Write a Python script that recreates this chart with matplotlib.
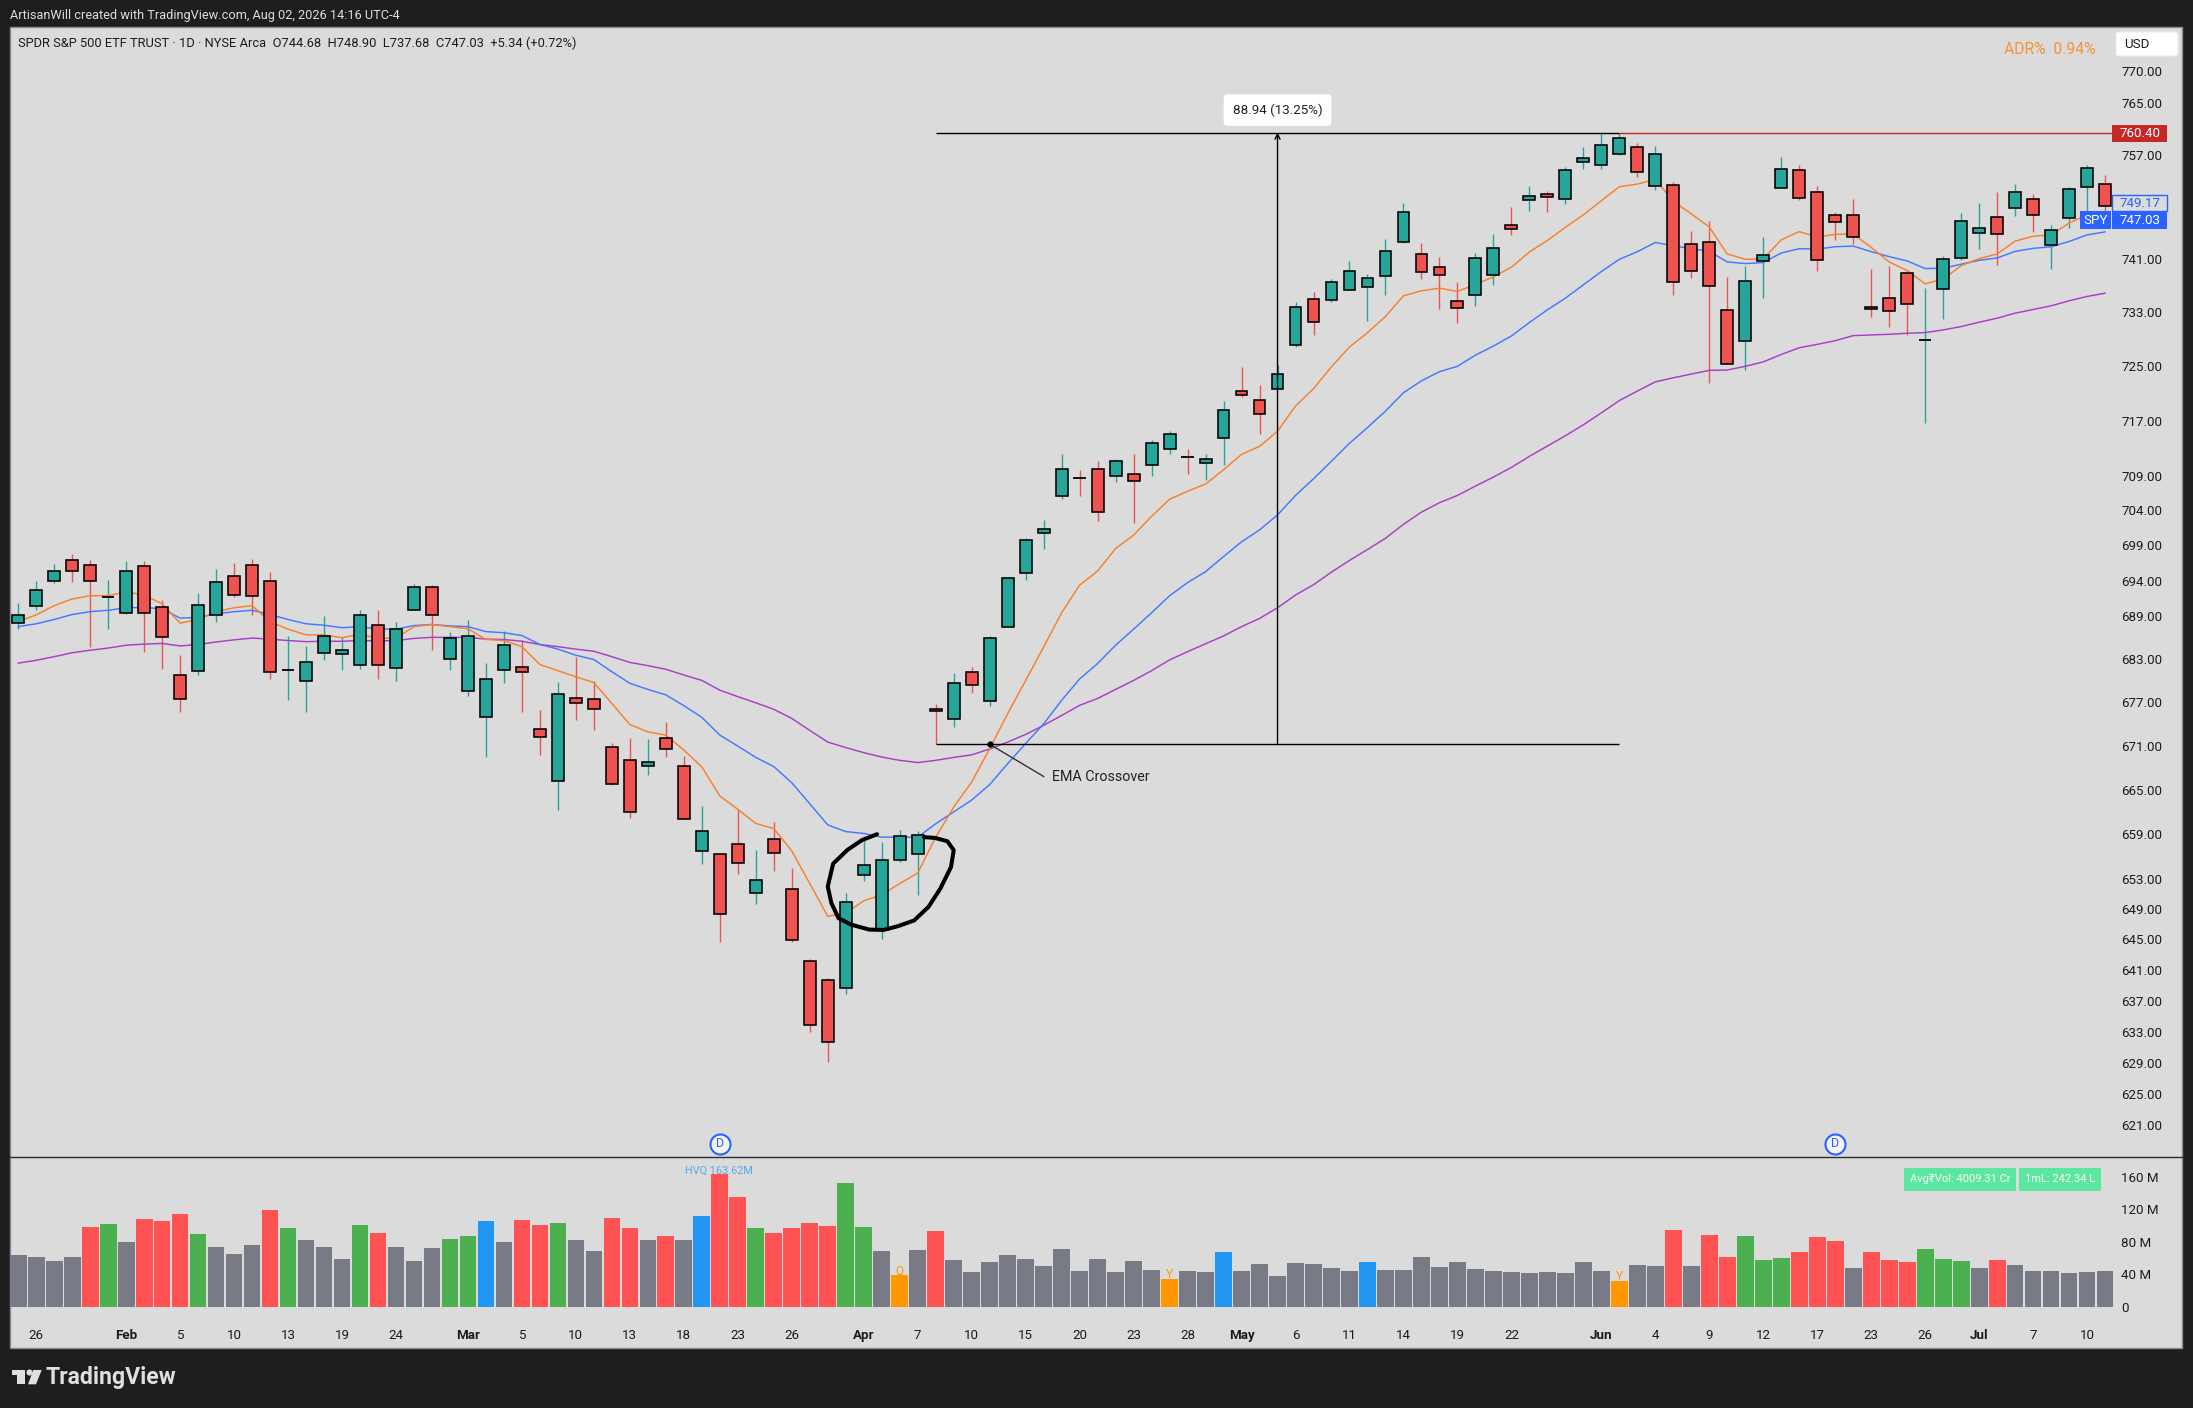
import matplotlib
matplotlib.use("Agg")
import matplotlib.pyplot as plt
from matplotlib.patches import Rectangle, FancyBboxPatch, Polygon
from matplotlib.lines import Line2D
from matplotlib.ticker import NullLocator, FixedLocator

plt.rcParams['font.family'] = ['Roboto', 'DejaVu Sans']

opens = [688.0, 690.4, 694.0, 696.9, 696.2, 691.65, 689.4, 696.0, 690.2, 680.7,
         681.3, 689.2, 694.7, 696.2, 694.0, 681.5, 679.9, 683.8, 683.7, 682.1,
         687.7, 681.7, 689.9, 693.1, 683.0, 678.5, 674.9, 681.4, 681.8, 673.3,
         666.2, 677.5, 677.4, 670.8, 669.0, 668.2, 672.1, 668.2, 656.7, 656.3,
         657.7, 651.1, 658.4, 651.7, 642.2, 639.7, 638.6, 653.6, 646.2, 655.6,
         656.4, 676.1, 674.6, 681.1, 677.2, 687.5, 695.0, 700.8, 706.0, 708.6,
         710.0, 709.0, 709.3, 710.6, 712.9, 711.7, 710.9, 714.4, 721.3, 720.1,
         721.7, 728.2, 735.0, 734.9, 736.4, 736.8, 738.5, 743.6, 741.8, 739.9,
         734.7, 735.6, 738.7, 746.2, 750.0, 751.0, 750.2, 755.9, 755.4, 757.1,
         758.2, 752.2, 752.3, 743.3, 743.6, 733.4, 728.7, 740.7, 751.9, 754.6,
         751.3, 747.7, 747.7, 733.8, 735.2, 738.9, 728.9, 736.5, 741.2, 745.0,
         747.4, 748.8, 750.2, 743.2, 747.3, 752.0, 752.5]
highs = [690.8, 693.9, 696.4, 697.7, 696.9, 694.1, 696.8, 696.8, 691.3, 683.5,
         692.3, 695.7, 696.5, 697.0, 695.2, 686.2, 684.8, 689.0, 686.0, 689.9,
         689.9, 688.2, 693.5, 693.3, 686.8, 688.4, 682.4, 686.9, 685.6, 675.9,
         679.8, 683.2, 679.9, 671.4, 672.1, 671.9, 674.2, 669.6, 662.8, 656.4,
         662.3, 656.9, 660.6, 654.5, 642.4, 640.0, 651.2, 658.3, 657.9, 659.5,
         659.4, 676.8, 681.0, 681.8, 686.2, 694.5, 700.1, 702.6, 712.2, 709.8,
         711.1, 711.4, 712.2, 714.2, 715.5, 712.8, 712.2, 719.9, 724.9, 722.2,
         725.2, 734.6, 736.1, 738.0, 740.8, 738.8, 744.0, 749.6, 743.5, 741.4,
         737.6, 741.9, 744.9, 749.0, 752.2, 751.4, 755.1, 758.1, 760.3, 760.4,
         758.8, 758.4, 752.8, 745.3, 746.8, 738.3, 740.0, 744.4, 756.7, 755.4,
         752.2, 748.2, 750.2, 739.6, 740.0, 739.3, 736.6, 741.5, 748.1, 749.5,
         751.3, 752.5, 751.0, 746.2, 752.0, 755.4, 753.9]
lows = [687.1, 689.9, 693.6, 693.8, 684.7, 687.1, 689.3, 683.9, 681.6, 675.7,
        680.8, 688.2, 691.6, 689.1, 680.2, 677.3, 675.7, 682.8, 681.5, 681.6,
        680.2, 679.9, 689.9, 684.3, 681.5, 677.9, 669.5, 679.6, 675.6, 669.7,
        662.3, 674.5, 673.2, 665.7, 661.2, 667.0, 669.5, 661.0, 655.0, 644.6,
        653.7, 649.7, 654.1, 644.6, 632.9, 629.1, 637.8, 652.8, 645.0, 655.3,
        650.9, 671.2, 673.6, 678.3, 676.5, 687.4, 694.1, 698.5, 705.6, 706.1,
        702.5, 708.1, 702.2, 709.0, 712.2, 709.2, 708.4, 710.5, 720.5, 715.0,
        721.6, 727.9, 729.7, 734.6, 736.3, 731.8, 735.6, 743.5, 738.0, 733.5,
        731.5, 733.9, 737.1, 744.7, 748.4, 748.2, 749.4, 754.7, 754.7, 756.9,
        753.6, 751.5, 735.6, 738.2, 722.6, 725.3, 724.4, 735.1, 751.8, 750.0,
        739.3, 743.9, 743.3, 732.3, 730.9, 729.6, 716.6, 732.1, 740.9, 742.5,
        740.1, 747.5, 745.2, 739.6, 745.7, 747.3, 747.8]
closes = [689.1, 692.6, 695.3, 695.3, 693.9, 691.7, 695.3, 689.4, 686.0, 677.4,
          690.5, 693.8, 691.9, 691.8, 681.1, 681.55, 682.6, 686.2, 684.3, 689.2,
          682.2, 687.1, 693.1, 689.1, 685.9, 686.2, 680.2, 684.9, 681.1, 672.2,
          678.1, 676.9, 676.1, 665.8, 662.0, 668.8, 670.5, 661.1, 659.4, 648.3,
          655.1, 652.9, 656.5, 644.9, 633.8, 631.7, 650.0, 654.9, 655.6, 658.7,
          658.9, 675.8, 679.7, 679.3, 685.9, 694.3, 699.7, 701.4, 710.0, 708.55,
          703.8, 711.1, 708.3, 713.8, 715.0, 711.65, 711.4, 718.6, 720.7, 718.0,
          723.8, 733.8, 731.6, 737.6, 739.2, 738.2, 742.3, 748.2, 739.1, 738.7,
          733.7, 741.2, 742.7, 745.6, 750.6, 750.5, 754.6, 756.5, 758.5, 759.6,
          754.3, 757.1, 737.6, 739.2, 737.0, 725.4, 737.7, 741.6, 754.8, 750.3,
          740.9, 746.7, 744.4, 733.5, 733.2, 734.3, 728.95, 741.0, 746.8, 745.8,
          744.8, 751.2, 747.7, 745.4, 751.7, 754.9, 749.1]

ema_fast = [688.2, 689.15, 690.45, 691.4, 691.85, 691.85, 692.4, 691.95, 690.7, 688.0,
            688.5, 689.6, 690.15, 690.45, 688.2, 687.15, 686.35, 686.35, 685.95, 686.45,
            685.85, 685.9, 687.5, 687.8, 687.5, 687.2, 685.7, 685.55, 684.7, 682.2,
            681.35, 680.5, 679.7, 676.8, 673.9, 672.9, 672.45, 670.4, 668.1, 664.15,
            662.35, 660.45, 659.75, 656.75, 652.4, 648.05, 648.5, 650.1, 650.9, 652.4,
            653.8, 658.6, 662.65, 666.05, 670.6, 675.4, 680.0, 684.65, 689.45, 693.35,
            695.35, 698.55, 700.45, 703.15, 705.6, 706.75, 707.8, 709.85, 712.1, 713.25,
            715.45, 719.15, 721.7, 724.95, 727.85, 730.0, 732.4, 735.5, 736.25, 736.65,
            736.15, 737.2, 738.35, 739.8, 742.1, 743.85, 745.85, 747.75, 749.9, 752.05,
            752.45, 753.2, 749.8, 747.9, 745.9, 741.8, 741.0, 741.05, 743.95, 745.2,
            744.35, 744.8, 744.8, 742.8, 740.6, 739.3, 737.3, 738.0, 740.05, 741.1,
            741.8, 743.75, 744.5, 744.7, 746.5, 747.75, 748.25]
ema_mid = [687.5, 687.9, 688.5, 689.2, 689.6, 689.8, 690.15, 690.2, 690.0, 688.7,
           688.8, 689.3, 689.6, 689.8, 689.2, 688.5, 687.9, 687.7, 687.35, 687.5,
           687.15, 687.15, 687.65, 687.8, 687.6, 687.5, 686.8, 686.65, 686.25, 685.0,
           684.35, 683.5, 682.9, 681.2, 679.6, 678.75, 678.0, 676.5, 674.9, 672.45,
           670.95, 669.4, 668.15, 665.95, 663.1, 660.25, 659.35, 659.1, 658.6, 658.6,
           658.6, 660.4, 662.0, 663.6, 665.7, 668.55, 671.3, 674.0, 677.25, 680.2,
           682.35, 684.9, 687.15, 689.45, 691.85, 693.7, 695.25, 697.4, 699.5, 701.2,
           703.35, 706.15, 708.55, 711.1, 713.7, 716.0, 718.4, 721.1, 722.85, 724.2,
           725.0, 726.65, 728.0, 729.5, 731.5, 733.4, 735.15, 737.15, 739.15, 741.0,
           742.15, 743.55, 743.05, 742.6, 742.2, 740.6, 740.35, 740.5, 741.95, 742.6,
           742.55, 742.9, 743.0, 742.15, 741.4, 740.75, 739.6, 739.65, 740.25, 740.85,
           741.2, 742.2, 742.65, 742.9, 743.7, 744.7, 745.15]
ema_slow = [682.4, 682.8, 683.3, 683.85, 684.2, 684.5, 684.9, 685.05, 685.15, 684.8,
            685.0, 685.35, 685.65, 685.9, 685.75, 685.55, 685.4, 685.45, 685.45, 685.55,
            685.5, 685.55, 685.85, 686.0, 686.0, 686.0, 685.75, 685.7, 685.45, 685.0,
            684.7, 684.35, 684.05, 683.3, 682.5, 682.05, 681.55, 680.75, 680.0, 678.65,
            677.75, 676.9, 676.0, 674.75, 673.1, 671.5, 670.75, 670.05, 669.45, 669.0,
            668.7, 669.0, 669.4, 669.75, 670.55, 671.5, 672.55, 673.8, 675.15, 676.55,
            677.5, 678.75, 680.0, 681.35, 682.85, 684.0, 685.1, 686.2, 687.5, 688.65,
            690.15, 691.95, 693.4, 695.2, 696.85, 698.4, 700.0, 702.0, 703.75, 705.1,
            706.15, 707.5, 708.8, 710.2, 711.8, 713.3, 714.8, 716.4, 718.15, 719.95,
            721.35, 722.7, 723.3, 723.85, 724.4, 724.45, 725.0, 725.65, 726.75, 727.75,
            728.25, 728.8, 729.55, 729.65, 729.75, 729.9, 730.0, 730.4, 730.9, 731.55,
            732.15, 732.9, 733.45, 734.0, 734.75, 735.4, 735.9]

volumes = [63.9, 61.5, 56.6, 61.5, 98.4, 102.0, 79.9, 108.0, 105.7, 114.3,
           89.8, 73.8, 65.2, 76.2, 119.3, 97.1, 82.4, 73.8, 59.0, 100.8,
           91.0, 73.8, 56.6, 72.5, 83.6, 87.3, 105.7, 79.9, 107.0, 100.8,
           103.3, 82.4, 68.9, 109.4, 97.1, 82.4, 87.3, 82.4, 111.9, 163.62,
           135.2, 97.1, 91.0, 97.1, 103.3, 99.6, 152.5, 98.4, 68.9, 39.3,
           70.1, 93.4, 57.8, 43.0, 55.3, 63.9, 59.0, 50.4, 71.3, 44.3,
           59.0, 43.0, 56.6, 45.5, 34.4, 44.3, 43.0, 67.6, 44.3, 52.9,
           38.1, 54.1, 52.9, 48.0, 44.3, 55.3, 45.5, 45.5, 61.5, 49.2,
           55.3, 46.7, 44.3, 43.0, 41.8, 43.0, 41.8, 55.3, 44.3, 32.0,
           51.6, 50.4, 94.7, 50.4, 88.5, 61.5, 87.3, 57.8, 60.2, 67.6,
           86.1, 81.1, 48.0, 67.6, 57.8, 55.3, 71.3, 59.0, 56.6, 48.0,
           57.8, 51.6, 44.3, 44.3, 41.8, 43.0, 44.3]
# g grey, r red, v green, b blue, o orange
vol_kinds = ("gggg" "rvg" "rrr" "v" "ggg" "r" "v" "ggg" "v" "r" "ggg" "vv" "b" "g" "rr" "v" "gg"
             "rr" "g" "r" "g" "b" "rr" "v" "rrrr" "vv" "g" "o" "g" "r"
             "gggggggggggg" "o" "gg" "b" "ggggggg" "b" "ggggggggggggg" "o" "gg"
             "r" "g" "rr" "vvv" "rrr" "g" "rrr" "vvv" "g" "r" "gggggg")

xtick_pos = [1, 6, 9, 12, 15, 18, 21, 25, 28, 31, 34, 37, 40, 43, 47, 50, 53, 56, 59,
             62, 65, 68, 71, 74, 77, 80, 83, 88, 91, 94, 97, 100, 103, 106, 109, 112, 115]
xtick_labels = ["26", "Feb", "5", "10", "13", "19", "24", "Mar", "5", "10", "13", "18", "23",
                "26", "Apr", "7", "10", "15", "20", "23", "28", "May", "6", "11", "14", "19",
                "22", "Jun", "4", "9", "12", "17", "23", "26", "Jul", "7", "10"]
months = ["Feb", "Mar", "Apr", "May", "Jun", "Jul"]
price_ticks = [770, 765, 757, 741, 733, 725, 717, 709, 704, 699, 694, 689, 683, 677, 671,
               665, 659, 653, 649, 645, 641, 637, 633, 629, 625, 621]
vol_ticks = [0, 40, 80, 120, 160]

circle_x = [47.74, 46.9, 46.1, 45.3, 45.0, 45.2, 45.6, 46.3, 47.3, 48.1,
            48.9, 49.8, 50.6, 51.25, 51.85, 52.0, 51.65, 50.95, 50.35]
circle_y = [659.0, 658.2, 656.9, 655.05, 652.0, 649.8, 647.8, 646.95, 646.3, 646.25,
            646.75, 647.5, 649.3, 651.7, 654.6, 656.85, 658.05, 658.5, 658.6]

W, H = 2193, 1408
BG = "#1e1e1e"
PANEL = "#dbdbdb"
TXT = "#1c1c1c"
UP, DOWN = "#26a69a", "#ef5350"
vol_colors = {"g": "#787b86", "r": "#ff5252", "v": "#4caf50", "b": "#2196f3", "o": "#ff9800"}


def fx(x):
    return x / W


def fy(y):
    return 1 - y / H


def box(x0, y0, x1, y1, face, edge="none", lw=0.0, z=5):
    fig.add_artist(Rectangle((fx(x0), fy(y1)), fx(x1 - x0), (y1 - y0) / H, transform=fig.transFigure,
                             facecolor=face, edgecolor=edge, linewidth=lw, zorder=z))


fig = plt.figure(figsize=(W / 100, H / 100), dpi=100, facecolor=BG)
fig.add_artist(Rectangle((fx(10), fy(1348)), fx(2172), 1321 / H, transform=fig.transFigure,
                         facecolor=PANEL, edgecolor="#8c8c8c", linewidth=1.0, zorder=-1))

left, right = 10, 2113
ax = fig.add_axes([fx(left), fy(1157), fx(right - left), (1157 - 28) / H])
axv = fig.add_axes([fx(left), fy(1347), fx(right - left), (1347 - 1157) / H])
n = len(closes)
idx = list(range(n))
xlim = (-0.456, 116.44)

for a in (ax, axv):
    a.set_facecolor("none")
    a.set_xlim(*xlim)
    for s in a.spines.values():
        s.set_visible(False)

ax.set_yscale("log")
ax.set_ylim(617.0, 776.8)
ax.yaxis.set_major_locator(FixedLocator(price_ticks))
ax.yaxis.set_minor_locator(NullLocator())
ax.yaxis.tick_right()
ax.set_yticklabels(["%.2f" % t for t in price_ticks])
ax.tick_params(axis="y", length=0, pad=5.8, labelsize=9.6, labelcolor=TXT)
ax.tick_params(axis="x", length=0, labelbottom=False)
ax.set_xticks([])

# candles
for i in idx:
    col = UP if closes[i] >= opens[i] else DOWN
    ax.vlines(i, lows[i], highs[i], color=col, lw=1.0, zorder=2)

ax.plot(idx, ema_slow, color="#a83fc4", lw=1.05, zorder=3)
ax.plot(idx, ema_mid, color="#4478ff", lw=1.05, zorder=3)
ax.plot(idx, ema_fast, color="#f9802a", lw=1.05, zorder=3)

for i in idx:
    col = UP if closes[i] >= opens[i] else DOWN
    if abs(closes[i] - opens[i]) < 0.2:
        ax.hlines(opens[i], i - 0.35, i + 0.35, color="black", lw=1.3, zorder=4)
    else:
        b0, b1 = min(opens[i], closes[i]), max(opens[i], closes[i])
        ax.bar(i, b1 - b0, bottom=b0, width=0.66, color=col, edgecolor="black", linewidth=1.15, zorder=4)

# price range measure
ax.hlines(671.2, 51, 89, color="black", lw=1.0, zorder=5)
ax.hlines(760.40, 51, 89, color="black", lw=1.0, zorder=5)
ax.annotate("", xy=(70, 760.40), xytext=(70, 671.2), zorder=5,
            arrowprops=dict(arrowstyle="->", color="black", lw=1.0, shrinkA=0, shrinkB=0, mutation_scale=9))
ax.text(70, 763.9, "88.94 (13.25%)", ha="center", va="center", fontsize=9.6, color="#222222", zorder=6,
        bbox=dict(boxstyle="round,pad=0.68,rounding_size=0.3", facecolor="white", edgecolor="none"))
ax.hlines(760.40, 89, xlim[1], color="#c62828", lw=1.0, zorder=5)

# hand drawn ring
ax.plot(circle_x, circle_y, color="black", lw=2.9, solid_capstyle="round", solid_joinstyle="round", zorder=6)

# crossover note
ax.plot([54], [671.2], "o", color="black", ms=3.5, zorder=7)
ax.plot([54, 57], [671.2, 666.8], color="#333333", lw=1.0, zorder=5)
ax.text(57.45, 666.7, "EMA Crossover", fontsize=10.3, color="#222222", va="center", ha="left", zorder=6)

# dividend markers
for k in (39, 101):
    ax.plot([k], [618.7], "o", ms=14.4, mfc="#f4f4f4", mec="#2962ff", mew=1.5, zorder=7, clip_on=False)
    ax.text(k, 618.65, "D", ha="center", va="center", fontsize=9.0, color="#2962ff", zorder=8)

# volume
axv.set_ylim(-49.2, 184.5)
axv.bar(idx, volumes, width=0.93, color=[vol_colors[c] for c in vol_kinds], linewidth=0)
axv.yaxis.tick_right()
axv.set_yticks(vol_ticks)
axv.set_yticklabels(["0" if t == 0 else "%d M" % t for t in vol_ticks])
axv.tick_params(axis="y", length=0, pad=5.8, labelsize=9.6, labelcolor=TXT)
axv.set_xticks(xtick_pos)
axv.set_xticklabels(xtick_labels)
axv.tick_params(axis="x", length=0, pad=-12.8, labelsize=9.6, labelcolor=TXT)
for lab in axv.get_xticklabels():
    if lab.get_text() in months:
        lab.set_fontweight("bold")
axv.text(38.95, 168.0, "HVQ 163.62M", ha="center", va="center", fontsize=7.8, color="#55a9ee")
for k, letter in zip((49, 64, 89), ("Q", "Y", "Y")):
    axv.text(k, volumes[k] + 5.5, letter, ha="center", va="center", fontsize=8.5, color="#ff9800")

fig.add_artist(Line2D([fx(10), fx(2182)], [fy(1157), fy(1157)], color="#2b2b33", lw=1.0, zorder=3,
                      transform=fig.transFigure))

# price scale badges
box(2112, 125, 2167, 142, "#c62828")
fig.text(fx(2161), fy(133.5), "760.40", color="white", ha="right", va="center", fontsize=9.6, zorder=6)
box(2112, 195, 2167, 211, PANEL, edge="#2962ff", lw=1.0)
fig.text(fx(2161), fy(203.7), "749.17", color="#2962ff", ha="right", va="center", fontsize=9.6, zorder=6)
box(2112, 211, 2167, 229, "#2962ff")
fig.text(fx(2161), fy(220.7), "747.03", color="white", ha="right", va="center", fontsize=9.6, zorder=6)
box(2080, 211, 2111, 229, "#2962ff")
fig.text(fx(2095.5), fy(220.7), "SPY", color="white", ha="center", va="center", fontsize=9.6, zorder=6)
fig.add_artist(FancyBboxPatch((fx(2116), fy(56)), fx(62), 24 / H, transform=fig.transFigure,
                              boxstyle="round,pad=0,rounding_size=0.002", facecolor="white", edgecolor="#eeeeee",
                              linewidth=0.8, zorder=5))
fig.text(fx(2124), fy(44), "USD", color=TXT, ha="left", va="center", fontsize=9.6, zorder=6)
fig.text(fx(2096), fy(49.3), "ADR%  0.94%", color="#f5923e", ha="right", va="center", fontsize=11.3, zorder=6)

# volume stat boxes
box(1904, 1168, 2016, 1191, "#5ce6a0")
box(2019, 1168, 2101, 1191, "#5ce6a0")
fig.text(fx(1960), fy(1179.5), "Avg₹Vol: 4009.31 Cr", color="#f4fff9", ha="center", va="center", fontsize=8.0, zorder=6)
fig.text(fx(2060), fy(1179.5), "1mL: 242.34 L", color="#f4fff9", ha="center", va="center", fontsize=8.0, zorder=6)

# header
fig.text(fx(10), fy(15.7), "ArtisanWill created with TradingView.com, Aug 02, 2026 14:16 UTC-4",
         color="#dddddd", ha="left", va="center", fontsize=9.16)
fig.text(fx(18.5), fy(43.2), "SPDR S&P 500 ETF TRUST · 1D · NYSE Arca  O744.68  H748.90  L737.68  C747.03  +5.34 (+0.72%)",
         color=TXT, ha="left", va="center", fontsize=9.28, zorder=6)

# footer logo
LOGO = "#dfdfdf"
fig.add_artist(Polygon([(fx(12), fy(1370)), (fx(25), fy(1370)), (fx(25), fy(1384.3)), (fx(17.3), fy(1384.3)),
                        (fx(17.3), fy(1374.7)), (fx(12), fy(1374.7))], closed=True, facecolor=LOGO,
                       edgecolor="none", transform=fig.transFigure, zorder=5))
fig.add_artist(Polygon([(fx(33.3), fy(1370)), (fx(41.7), fy(1370)), (fx(36), fy(1384.3)), (fx(28), fy(1384.3))],
                       closed=True, facecolor=LOGO, edgecolor="none", transform=fig.transFigure, zorder=5))
fig.add_artist(Line2D([fx(29)], [fy(1372.2)], marker="o", ms=3.4, color=LOGO, transform=fig.transFigure, zorder=5))
fig.text(fx(46), fy(1377.7), "TradingView", color=LOGO, ha="left", va="center", fontsize=16.6, fontweight="semibold")

fig.savefig("out.png", dpi=100, facecolor=BG)
plt.close()
